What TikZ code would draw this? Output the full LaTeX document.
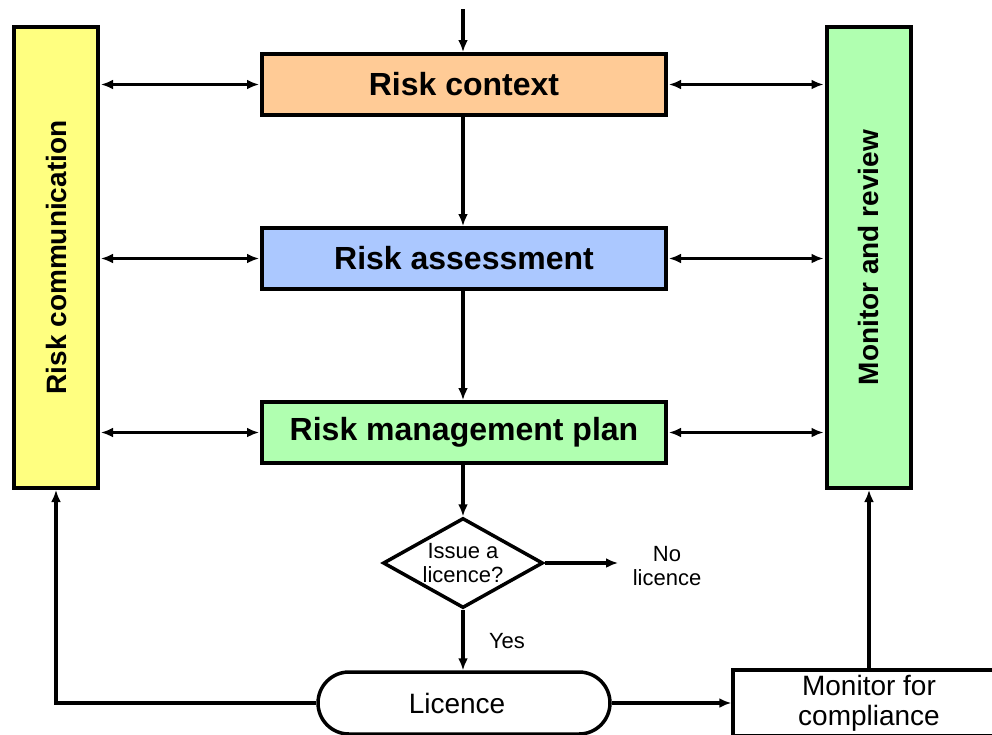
\documentclass[tikz,border=0pt]{standalone}
\usepackage{fontspec}
\setmainfont{Liberation Sans}
\usetikzlibrary{arrows.meta,shapes.geometric,shapes.misc}
\definecolor{cOrange}{RGB}{255,203,150}
\definecolor{cBlue}{RGB}{171,200,255}
\definecolor{cGreen}{RGB}{176,255,176}
\definecolor{cYellow}{RGB}{255,255,128}
\begin{document}
\begin{tikzpicture}[x=1pt,y=-1pt,
  mainbox/.style={draw, line width=4pt, minimum width=404pt, minimum height=61pt, inner sep=0pt,
    font=\fontsize{32}{36}\selectfont\bfseries},
  sidebox/.style={draw, line width=4pt, minimum width=84pt, minimum height=461pt, inner sep=0pt},
  sidetext/.style={rotate=90, font=\fontsize{28}{32}\selectfont\bfseries},
  conn/.style={line width=3.5pt, -{Latex[length=12pt,width=10pt]}},
  dconn/.style={line width=3.5pt, {Latex[length=12pt,width=10pt]}-{Latex[length=12pt,width=10pt]}, shorten <=1pt, shorten >=1pt},
  smalltext/.style={font=\fontsize{22}{24}\selectfont, align=center, inner sep=0pt},
  midtext/.style={font=\fontsize{28}{30}\selectfont, align=center, inner sep=0pt}
]
\useasboundingbox (0,0) rectangle (992,734);
\clip (0,0) rectangle (992,734);

% main boxes
\node[mainbox, fill=cOrange] (ctx) at (464,84.5) {Risk context};
\node[mainbox, fill=cBlue] (ass) at (464,258.5) {Risk assessment};
\node[mainbox, fill=cGreen] (rmp) at (464,432.5) {Risk management plan};

% side boxes
\node[sidebox, fill=cYellow] (comm) at (56,257.5) {};
\node[sidetext] (commt) at (comm.center) {Risk communication};
\node[sidebox, fill=cGreen] (mon) at (868.5,257.5) {};
\node[sidetext] (mont) at (mon.center) {Monitor and review};

% decision
\node[draw, diamond, line width=3.5pt, minimum width=160pt, minimum height=90pt, inner sep=0pt] (dec) at (463,563) {};
\node[smalltext] (dect) at (dec.center) {Issue a\\licence?};
\coordinate (nol) at (618,563);
\node[smalltext] (nolt) at (667,566) {No\\licence};
\node[smalltext] (yes) at (507,641) {Yes};

% licence and monitor for compliance
\node[draw, rounded rectangle, line width=3.5pt, minimum width=292pt, minimum height=62pt, inner sep=0pt] (lic) at (464,703) {};
\node[font=\fontsize{28}{30}\selectfont, inner sep=0pt] (lict) at (457,703) {Licence};
\node[draw, line width=3.5pt, minimum width=272pt, minimum height=66pt, inner sep=0pt, midtext] (mfc) at (869,703) {Monitor for\\compliance};

% top input
\coordinate (top) at (463,9);
\draw[conn] (top) -- (ctx.north -| top);

% vertical chain
\draw[conn] (ctx.south -| top) -- (ass.north -| top);
\draw[conn] (ass.south -| top) -- (rmp.north -| top);
\draw[conn] (rmp.south -| top) -- (dec.north);
\draw[conn] (dec.east) -- (nol);
\draw[conn] (dec.south) -- (lic.north -| dec.south);

% side double arrows
\foreach \n in {ctx,ass,rmp}{
  \draw[dconn] (comm.east |- \n.west) -- (\n.west);
  \draw[dconn] (\n.east) -- (mon.west |- \n.east);
}

% feedback lines
\draw[conn] (lic.west) -| (comm.south);
\draw[conn] (lic.east) -- (mfc.west);
\draw[conn] (mfc.north) -- (mfc.north |- mon.south);
\end{tikzpicture}
\end{document}
